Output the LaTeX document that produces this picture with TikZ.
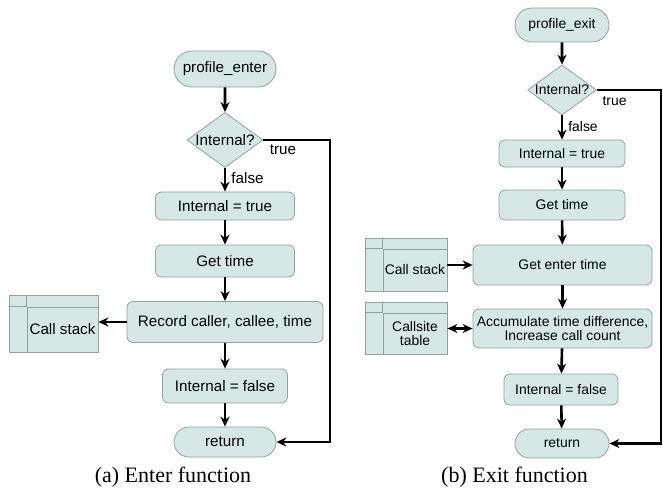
\documentclass[tikz,border=0pt]{standalone}
\usepackage{fontspec}
\setmainfont{Liberation Serif}
\setsansfont{Liberation Sans}
\usetikzlibrary{shapes.geometric,shapes.misc,arrows.meta,backgrounds}
\definecolor{boxfill}{RGB}{213,232,230}
\definecolor{boxline}{RGB}{145,160,160}
\tikzset{
  flow/.style={line width=2.6pt,-{Stealth[length=10pt,width=9pt]}},
  both/.style={line width=2.6pt,{Stealth[length=10pt,width=9pt]}-{Stealth[length=10pt,width=9pt]}},
  term/.style={rounded rectangle,draw=boxline,fill=boxfill,line width=0.8pt,inner sep=2pt},
  proc/.style={rectangle,rounded corners=6pt,draw=boxline,fill=boxfill,line width=0.8pt,inner sep=2pt},
  test/.style={diamond,aspect=1.4,draw=boxline,fill=boxfill,line width=0.8pt,inner sep=0pt},
  store/.style={rectangle,draw=boxline,fill=boxfill,line width=0.8pt,inner sep=1pt},
  storeline/.style={draw=boxline,line width=0.8pt},
  lbl/.style={inner sep=0pt},
  caption/.style={font=\rmfamily\fontsize{22}{24}\selectfont,anchor=base}
}
\begin{document}
\begin{tikzpicture}[x=1pt,y=-1pt]
\useasboundingbox (0,0) rectangle (663,487);

% (a) enter function
\begin{scope}[font=\sffamily\fontsize{15.2}{17}\selectfont]
\node[term,minimum width=106,minimum height=36] (enterA) at (225,69) {profile\_enter};
\node[test,minimum width=76,minimum height=55] (testA) at (225,140) {Internal?};
\node[proc,minimum width=139,minimum height=28] (setA) at (225,206) {Internal = true};
\node[proc,minimum width=139,minimum height=32] (timeA) at (225,261) {Get time};
\node[proc,minimum width=196,minimum height=41] (recA) at (225,322) {Record caller, callee, time};
\node[proc,minimum width=125,minimum height=34] (unsetA) at (225,386) {Internal = false};
\node[term,minimum width=106,minimum height=30] (retA) at (225,442) {return};
\node[store,minimum width=71,minimum height=45] (stackA) at (62.5,329.5) {Call stack};
\begin{scope}[on background layer]
\filldraw[storeline,fill=boxfill] ([xshift=-17pt]stackA.south west) rectangle ([yshift=11pt]stackA.north east);
\end{scope}
\draw[storeline] ([yshift=11pt]stackA.north west) -- (stackA.north west);
\draw[storeline] ([xshift=-17pt]stackA.north west) -- (stackA.north west);

\draw[flow] (enterA) -- (testA);
\draw[flow] (testA) -- (setA);
\node[lbl] (falseA) at (247.5,178) {false};
\draw[flow] (setA) -- (timeA);
\draw[flow] (timeA) -- (recA);
\draw[flow] (recA.west) -- (recA.west -| stackA.east);
\draw[flow] (recA) -- (unsetA);
\draw[flow] (unsetA) -- (retA);
\coordinate (bendA) at (330,140);
\draw[flow] (testA.east) -- (bendA) |- (retA.east);
\node[lbl] (trueA) at (283,150) {true};
\end{scope}
\node[caption] (capA) at (173,482) {(a) Enter function};

% (b) exit function
\begin{scope}[font=\sffamily\fontsize{13.9}{14.5}\selectfont]
\node[term,minimum width=98,minimum height=34] (exitB) at (562,25) {profile\_exit};
\node[test,minimum width=69,minimum height=50] (testB) at (562,90) {Internal?};
\node[proc,minimum width=126,minimum height=27] (setB) at (562,153.5) {Internal = true};
\node[proc,minimum width=126,minimum height=30] (timeB) at (562,205) {Get time};
\node[proc,minimum width=179,minimum height=40] (enterB) at (562.5,265) {Get enter time};
\node[proc,minimum width=179,minimum height=39,align=center] (accB) at (562.5,328.5) {Accumulate time difference,\\Increase call count};
\node[proc,minimum width=114,minimum height=31] (unsetB) at (561,389.5) {Internal = false};
\node[term,minimum width=98,minimum height=29] (retB) at (562,443.5) {return};
\node[store,minimum width=64,minimum height=42] (stackB) at (415,270) {Call stack};
\node[store,minimum width=64,minimum height=41,align=center] (siteB) at (415,333.5) {Callsite\\table};
\begin{scope}[on background layer]
\filldraw[storeline,fill=boxfill] ([xshift=-17pt]stackB.south west) rectangle ([yshift=10pt]stackB.north east);
\filldraw[storeline,fill=boxfill] ([xshift=-17pt]siteB.south west) rectangle ([yshift=10pt]siteB.north east);
\end{scope}
\draw[storeline] ([yshift=10pt]stackB.north west) -- (stackB.north west);
\draw[storeline] ([xshift=-17pt]stackB.north west) -- (stackB.north west);
\draw[storeline] ([yshift=10pt]siteB.north west) -- (siteB.north west);
\draw[storeline] ([xshift=-17pt]siteB.north west) -- (siteB.north west);

\draw[flow] (exitB) -- (testB);
\draw[flow] (testB) -- (setB);
\node[lbl] (falseB) at (583,127) {false};
\draw[flow] (setB) -- (timeB);
\draw[flow] (timeB) -- (enterB);
\draw[flow] (stackB.east |- enterB.west) -- (enterB.west);
\draw[flow] (enterB) -- (accB);
\draw[both] (siteB.east |- accB.west) -- (accB.west);
\draw[flow] (accB) -- (unsetB);
\draw[flow] (unsetB) -- (retB);
\coordinate (bendB) at (661,90);
\draw[flow] (testB.east) -- (bendB) |- (retB.east);
\node[lbl] (trueB) at (614.5,101) {true};
\end{scope}
\node[caption] (capB) at (514.5,482) {(b) Exit function};
\end{tikzpicture}
\end{document}
